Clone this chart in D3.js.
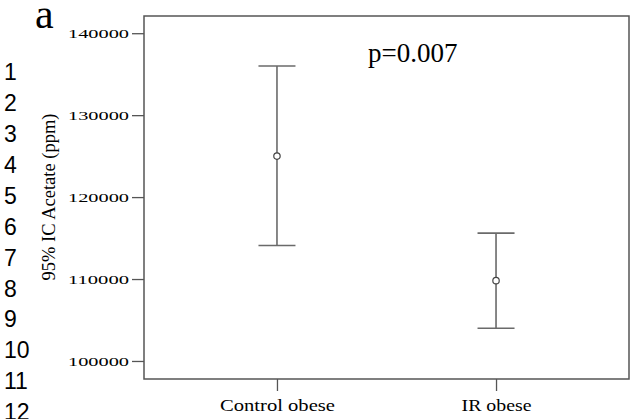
<!DOCTYPE html>
<html>
<head>
<meta charset="utf-8">
<script src="https://cdn.jsdelivr.net/npm/d3@7"></script>
<style>
  html, body { margin: 0; padding: 0; background: #fff; }
  svg { display: block; }
  text { font-family: "Liberation Serif", "Times New Roman", serif; fill: #000; }
</style>
</head>
<body>
<svg id="chart" width="631" height="419"></svg>
<script>
// Group means with their 95% confidence interval bounds (ppm)
const categories = ["Control obese", "IR obese"];
const means = [125000, 109800];
const lower = [114100, 104000];
const upper = [136000, 115600];
const yTicks = [100000, 110000, 120000, 130000, 140000];
const yDomain = [97800, 142100];
const yTitle = "95% IC Acetate (ppm)";
const pLabel = "p=0.007";
const panelLabel = "a";
const lineNumbers = ["1","2","3","4","5","6","7","8","9","10","11","12"];

const W = 631, H = 419;
const margin = { top: 16, right: 2, bottom: 40, left: 144 };
const svg = d3.select("#chart");

const x = d3.scalePoint()
  .domain(categories)
  .range([margin.left, W - margin.right])
  .padding(0.607);

const y = d3.scaleLinear()
  .domain(yDomain)
  .range([H - margin.bottom, margin.top]);

const axisColor = "#555";
const barColor = "#6a6a6a";

// Manuscript line numbers down the left edge
svg.append("g").selectAll("text")
  .data(lineNumbers)
  .join("text")
  .attr("x", 4)
  .attr("y", (d, i) => 72 + i * 30.9)
  .attr("dy", "0.36em")
  .style("font-family", "'Liberation Sans', Arial, sans-serif")
  .style("font-size", "23px")
  .text(d => d);

// Panel letter
svg.append("text")
  .attr("x", 35)
  .attr("y", 28)
  .style("font-size", "42px")
  .text(panelLabel);

// Y axis
const yAxis = svg.append("g")
  .attr("transform", `translate(${margin.left},0)`)
  .call(d3.axisLeft(y).tickValues(yTicks).tickFormat(d3.format("d")).tickSizeInner(12).tickSizeOuter(0).tickPadding(3));
yAxis.select(".domain").remove();
yAxis.selectAll(".tick line").attr("stroke", axisColor).attr("stroke-width", 1.3);
yAxis.selectAll(".tick text")
  .style("font-family", "'Liberation Serif', serif")
  .style("font-size", "13.5px")
  .attr("textLength", 61)
  .attr("lengthAdjust", "spacingAndGlyphs");

// X axis
const xAxis = svg.append("g")
  .attr("transform", `translate(0,${H - margin.bottom})`)
  .call(d3.axisBottom(x).tickSizeInner(12).tickSizeOuter(0).tickPadding(8));
xAxis.select(".domain").remove();
xAxis.selectAll(".tick line").attr("stroke", axisColor).attr("stroke-width", 1.3);
const xLabelWidths = { "Control obese": 115, "IR obese": 70 };
xAxis.selectAll(".tick text")
  .style("font-family", "'Liberation Serif', serif")
  .style("font-size", "17px")
  .attr("textLength", d => xLabelWidths[d])
  .attr("lengthAdjust", "spacingAndGlyphs");

// Plot frame
svg.append("rect")
  .attr("x", margin.left)
  .attr("y", margin.top)
  .attr("width", W - margin.right - margin.left)
  .attr("height", H - margin.bottom - margin.top)
  .attr("fill", "none")
  .attr("stroke", axisColor)
  .attr("stroke-width", 1.5);

// Y axis title
svg.append("text")
  .attr("transform", "translate(55,197) rotate(-90)")
  .attr("text-anchor", "middle")
  .style("font-size", "18.5px")
  .text(yTitle);

// p-value annotation
svg.append("text")
  .attr("x", 368)
  .attr("y", 61.5)
  .style("font-size", "27px")
  .text(pLabel);

// Error bars with mean markers
const capHalf = 18.5;
const bars = svg.append("g").selectAll("g")
  .data(categories.map((c, i) => ({ c, mean: means[i], lo: lower[i], hi: upper[i] })))
  .join("g");

bars.append("line")
  .attr("x1", d => x(d.c)).attr("x2", d => x(d.c))
  .attr("y1", d => y(d.hi)).attr("y2", d => y(d.lo))
  .attr("stroke", barColor).attr("stroke-width", 1.6);

bars.append("line")
  .attr("x1", d => x(d.c) - capHalf).attr("x2", d => x(d.c) + capHalf)
  .attr("y1", d => y(d.hi)).attr("y2", d => y(d.hi))
  .attr("stroke", barColor).attr("stroke-width", 1.6);

bars.append("line")
  .attr("x1", d => x(d.c) - capHalf).attr("x2", d => x(d.c) + capHalf)
  .attr("y1", d => y(d.lo)).attr("y2", d => y(d.lo))
  .attr("stroke", barColor).attr("stroke-width", 1.6);

bars.append("circle")
  .attr("cx", d => x(d.c))
  .attr("cy", d => y(d.mean))
  .attr("r", 3.2)
  .attr("fill", "#fff")
  .attr("stroke", "#444")
  .attr("stroke-width", 1.2);
</script>
</body>
</html>
